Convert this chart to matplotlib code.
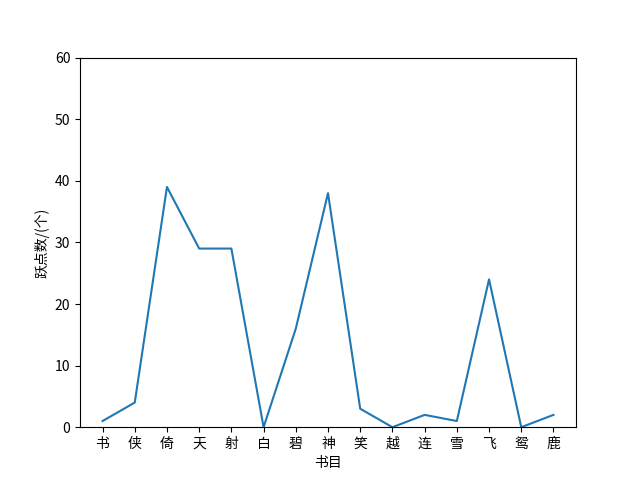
import matplotlib
matplotlib.use("Agg")
import matplotlib.pyplot as plt

plt.rcParams['font.family'] = ['Noto Sans CJK SC', 'DejaVu Sans']
plt.rcParams['axes.unicode_minus'] = False

books = ["书", "侠", "倚", "天", "射", "白", "碧", "神", "笑", "越", "连", "雪", "飞", "鸳", "鹿"]
counts = [1, 4, 39, 29, 29, 0, 16, 38, 3, 0, 2, 1, 24, 0, 2]

fig, ax = plt.subplots(figsize=(6.4, 4.8), dpi=100)
ax.plot(books, counts)
ax.set_ylim(0, 60)
ax.set_xlabel("书目")
ax.set_ylabel("跃点数/(个)")
fig.savefig("out.png")
